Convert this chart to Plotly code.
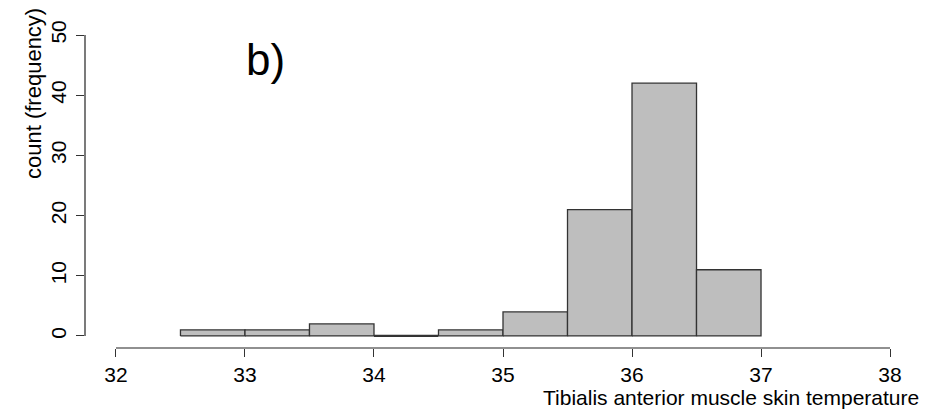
import plotly.graph_objects as go

bin_edges = [32.5, 33.0, 33.5, 34.0, 34.5, 35.0, 35.5, 36.0, 36.5, 37.0]
counts = [1, 1, 2, 0, 1, 4, 21, 42, 11]
x_ticks = [32, 33, 34, 35, 36, 37, 38]
y_ticks = [0, 10, 20, 30, 40, 50]
x_title = "Tibialis anterior muscle skin temperature"
y_title = "count (frequency)"
panel_label = "b)"

FONT = "Liberation Sans, Arial, sans-serif"
FS = 21
W, H = 938, 418
L, R, T, B = 85, 17, 23, 70

fig = go.Figure()
for a, b, c in zip(bin_edges[:-1], bin_edges[1:], counts):
    fig.add_trace(go.Scatter(
        x=[a, a, b, b, a], y=[0, c, c, 0, 0], mode="lines",
        fill="toself", fillcolor="#BEBEBE",
        line=dict(color="#333333", width=1.3 if c > 0 else 2.2),
        hoverinfo="text", text=f"{a}-{b}: {c}", showlegend=False,
    ))

xr = [x_ticks[0] - 0.04 * (x_ticks[-1] - x_ticks[0]), x_ticks[-1] + 0.04 * (x_ticks[-1] - x_ticks[0])]
yr = [y_ticks[0] - 0.04 * (y_ticks[-1] - y_ticks[0]), y_ticks[-1] + 0.04 * (y_ticks[-1] - y_ticks[0])]

fig.update_layout(
    width=W, height=H,
    margin=dict(l=L, r=R, t=T, b=B),
    paper_bgcolor="white", plot_bgcolor="white",
    font=dict(family=FONT, size=FS, color="black"),
    xaxis=dict(range=xr, tickvals=x_ticks, ticks="outside", ticklen=8, tickwidth=1.2,
               tickcolor="#333333", showline=False, showgrid=False, zeroline=False,
               tickfont=dict(size=FS), fixedrange=True),
    yaxis=dict(range=yr, tickvals=y_ticks, ticks="outside", ticklen=8, tickwidth=1.2,
               tickcolor="#333333", showline=False, showgrid=False, zeroline=False,
               tickangle=-90, tickfont=dict(size=FS), ticklabelstandoff=2, fixedrange=True),
    shapes=[
        dict(type="line", xref="x", yref="paper", x0=x_ticks[0], x1=x_ticks[-1], y0=0, y1=0,
             line=dict(color="#222222", width=1.2)),
        dict(type="line", xref="paper", yref="y", x0=0, x1=0, y0=y_ticks[0], y1=y_ticks[-1],
             line=dict(color="#222222", width=1.2)),
    ],
    annotations=[
        dict(text=x_title, xref="paper", yref="paper", x=1, y=-(398 - (H - B)) / (H - T - B),
             xanchor="right", yanchor="middle", showarrow=False, font=dict(size=FS)),
        dict(text=y_title, xref="paper", yref="paper", x=-(L - 33) / (W - L - R),
             y=(H - B - 94) / (H - T - B), xanchor="center", yanchor="middle",
             textangle=-90, showarrow=False, font=dict(size=22)),
        dict(text=panel_label, xref="paper", yref="paper", x=(265 - L) / (W - L - R),
             y=(H - B - 60) / (H - T - B), xanchor="center", yanchor="middle",
             showarrow=False, font=dict(size=44)),
    ],
)

fig.write_html("out.html")
